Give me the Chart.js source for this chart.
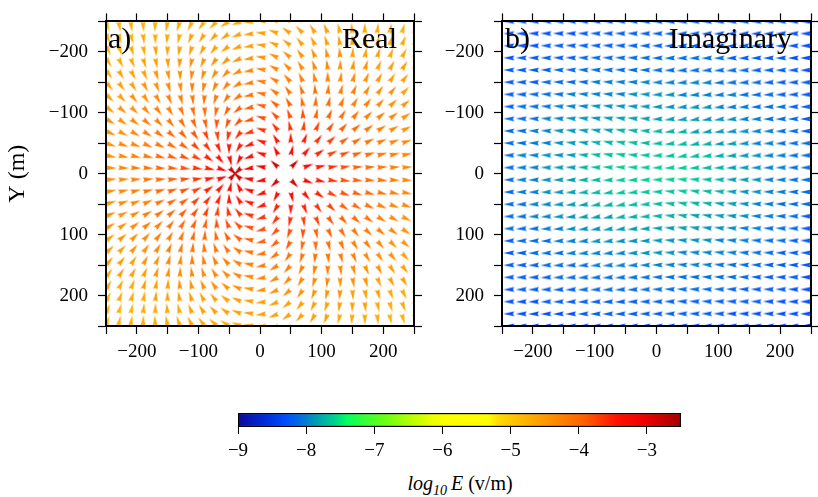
<!DOCTYPE html>
<html>
<head>
<meta charset="utf-8">
<script src="https://cdn.jsdelivr.net/npm/chart.js@4.4.1/dist/chart.umd.min.js"></script>
<style>
  html, body { margin: 0; padding: 0; background: #fff; }
  body { width: 818px; height: 497px; position: relative; overflow: hidden; font-family: "Liberation Serif", serif; }
  canvas { position: absolute; }
  #cbLabel { position: absolute; top: 472px; left: 330px; width: 260px; text-align: center; font-size: 20px; color: #000; }
  #cbLabel sub { font-size: 14px; }
</style>
</head>
<body>
<canvas id="real" width="440" height="380" style="left:0;top:0"></canvas>
<canvas id="imag" width="418" height="380" style="left:400px;top:0"></canvas>
<canvas id="cbar" width="520" height="70" style="left:200px;top:400px"></canvas>
<div id="cbLabel"><i>log<sub>10</sub>&#8201;E</i> (v/m)</div>
<script>
// grid nodes (m)
const gridX = [-250,-230,-210,-190,-170,-150,-130,-110,-90,-70,-50,-30,-10,10,30,50,70,90,110,130,150,170,190,210,230,250];
const gridY = [-250,-230,-210,-190,-170,-150,-130,-110,-90,-70,-50,-30,-10,10,30,50,70,90,110,130,150,170,190,210,230,250];
const axisLabels = [-200, -100, 0, 100, 200];
const cbTicks = [-9, -8, -7, -6, -5, -4, -3];
const cbMin = -9, cbMax = -2.5;

// arrow direction in degrees (0 = +x, 90 = +y i.e. downwards), rows follow gridY
const realAngle = [
  [72,77,82,87,93,100,108,116,126,136,148,160,173,-173,-160,-148,-136,-126,-116,-108,-100,-93,-87,-82,-77,-72],
  [68,73,77,83,89,96,103,112,122,133,145,159,173,-173,-159,-145,-133,-122,-112,-103,-96,-89,-83,-77,-73,-68],
  [64,68,73,78,84,91,99,108,118,129,142,157,172,-172,-157,-142,-129,-118,-108,-99,-91,-84,-78,-73,-68,-64],
  [59,63,68,73,79,86,94,103,113,125,139,155,171,-171,-155,-139,-125,-113,-103,-94,-86,-79,-73,-68,-63,-59],
  [54,58,62,67,73,80,88,97,108,121,135,152,170,-170,-152,-135,-121,-108,-97,-88,-80,-73,-67,-62,-58,-54],
  [49,52,57,62,67,74,82,91,102,115,131,149,169,-169,-149,-131,-115,-102,-91,-82,-74,-67,-62,-57,-52,-49],
  [43,46,50,55,60,67,75,84,95,109,125,145,168,-168,-145,-125,-109,-95,-84,-75,-67,-60,-55,-50,-46,-43],
  [37,40,44,48,53,59,67,76,87,101,119,141,166,-166,-141,-119,-101,-87,-76,-67,-59,-53,-48,-44,-40,-37],
  [31,34,37,40,45,51,58,66,78,93,111,135,164,-164,-135,-111,-93,-78,-66,-58,-51,-45,-40,-37,-34,-31],
  [24,27,29,32,36,41,47,55,67,82,102,129,162,-162,-129,-102,-82,-67,-55,-47,-41,-36,-32,-29,-27,-24],
  [18,19,21,24,26,30,35,43,53,68,91,122,159,-159,-122,-91,-68,-53,-43,-35,-30,-26,-24,-21,-19,-18],
  [11,12,13,14,16,19,22,27,35,50,77,118,160,-160,-118,-77,-50,-35,-27,-22,-19,-16,-14,-13,-12,-11],
  [4,4,4,5,5,6,8,9,13,20,46,137,170,-170,-137,-46,-20,-13,-9,-8,-6,-5,-5,-4,-4,-4],
  [-4,-4,-4,-5,-5,-6,-8,-9,-13,-20,-46,-137,-170,170,137,46,20,13,9,8,6,5,5,4,4,4],
  [-11,-12,-13,-14,-16,-19,-22,-27,-35,-50,-77,-118,-160,160,118,77,50,35,27,22,19,16,14,13,12,11],
  [-18,-19,-21,-24,-26,-30,-35,-43,-53,-68,-91,-122,-159,159,122,91,68,53,43,35,30,26,24,21,19,18],
  [-24,-27,-29,-32,-36,-41,-47,-55,-67,-82,-102,-129,-162,162,129,102,82,67,55,47,41,36,32,29,27,24],
  [-31,-34,-37,-40,-45,-51,-58,-66,-78,-93,-111,-135,-164,164,135,111,93,78,66,58,51,45,40,37,34,31],
  [-37,-40,-44,-48,-53,-59,-67,-76,-87,-101,-119,-141,-166,166,141,119,101,87,76,67,59,53,48,44,40,37],
  [-43,-46,-50,-55,-60,-67,-75,-84,-95,-109,-125,-145,-168,168,145,125,109,95,84,75,67,60,55,50,46,43],
  [-49,-52,-57,-62,-67,-74,-82,-91,-102,-115,-131,-149,-169,169,149,131,115,102,91,82,74,67,62,57,52,49],
  [-54,-58,-62,-67,-73,-80,-88,-97,-108,-121,-135,-152,-170,170,152,135,121,108,97,88,80,73,67,62,58,54],
  [-59,-63,-68,-73,-79,-86,-94,-103,-113,-125,-139,-155,-171,171,155,139,125,113,103,94,86,79,73,68,63,59],
  [-64,-68,-73,-78,-84,-91,-99,-108,-118,-129,-142,-157,-172,172,157,142,129,118,108,99,91,84,78,73,68,64],
  [-68,-73,-77,-83,-89,-96,-103,-112,-122,-133,-145,-159,-173,173,159,145,133,122,112,103,96,89,83,77,73,68],
  [-72,-77,-82,-87,-93,-100,-108,-116,-126,-136,-148,-160,-173,173,160,148,136,126,116,108,100,93,87,82,77,72]
];

// log10 |E| of the real part
const realLogE = [
  [-4.85,-4.75,-4.75,-4.75,-4.75,-4.65,-4.65,-4.65,-4.65,-4.65,-4.65,-4.65,-4.65,-4.65,-4.65,-4.65,-4.65,-4.65,-4.65,-4.65,-4.65,-4.75,-4.75,-4.75,-4.75,-4.85],
  [-4.75,-4.75,-4.75,-4.65,-4.65,-4.65,-4.65,-4.55,-4.55,-4.55,-4.55,-4.55,-4.55,-4.55,-4.55,-4.55,-4.55,-4.55,-4.55,-4.65,-4.65,-4.65,-4.65,-4.75,-4.75,-4.75],
  [-4.75,-4.65,-4.65,-4.65,-4.55,-4.55,-4.55,-4.55,-4.55,-4.55,-4.55,-4.55,-4.55,-4.55,-4.55,-4.55,-4.55,-4.55,-4.55,-4.55,-4.55,-4.55,-4.65,-4.65,-4.65,-4.75],
  [-4.65,-4.65,-4.65,-4.55,-4.55,-4.55,-4.4,-4.4,-4.4,-4.4,-4.4,-4.4,-4.4,-4.4,-4.4,-4.4,-4.4,-4.4,-4.4,-4.4,-4.55,-4.55,-4.55,-4.65,-4.65,-4.65],
  [-4.65,-4.55,-4.55,-4.55,-4.4,-4.4,-4.4,-4.3,-4.3,-4.3,-4.3,-4.3,-4.3,-4.3,-4.3,-4.3,-4.3,-4.3,-4.3,-4.4,-4.4,-4.4,-4.55,-4.55,-4.55,-4.65],
  [-4.55,-4.55,-4.55,-4.4,-4.4,-4.3,-4.3,-4.2,-4.2,-4.2,-4.2,-4.2,-4.2,-4.2,-4.2,-4.2,-4.2,-4.2,-4.2,-4.3,-4.3,-4.4,-4.4,-4.55,-4.55,-4.55],
  [-4.55,-4.55,-4.4,-4.4,-4.3,-4.2,-4.2,-4.1,-4.1,-4.1,-4.1,-4.1,-4.1,-4.1,-4.1,-4.1,-4.1,-4.1,-4.1,-4.2,-4.2,-4.3,-4.4,-4.4,-4.55,-4.55],
  [-4.55,-4.4,-4.4,-4.3,-4.2,-4.2,-4.1,-4.0,-4.0,-4.0,-3.9,-3.9,-3.9,-3.9,-3.9,-3.9,-4.0,-4.0,-4.0,-4.1,-4.2,-4.2,-4.3,-4.4,-4.4,-4.55],
  [-4.4,-4.4,-4.3,-4.2,-4.2,-4.1,-4.0,-3.9,-3.9,-3.8,-3.8,-3.8,-3.8,-3.8,-3.8,-3.8,-3.8,-3.9,-3.9,-4.0,-4.1,-4.2,-4.2,-4.3,-4.4,-4.4],
  [-4.4,-4.4,-4.3,-4.2,-4.1,-4.0,-3.9,-3.8,-3.7,-3.7,-3.6,-3.6,-3.6,-3.6,-3.6,-3.6,-3.7,-3.7,-3.8,-3.9,-4.0,-4.1,-4.2,-4.3,-4.4,-4.4],
  [-4.4,-4.3,-4.3,-4.2,-4.1,-4.0,-3.9,-3.7,-3.6,-3.5,-3.45,-3.45,-3.45,-3.45,-3.45,-3.45,-3.5,-3.6,-3.7,-3.9,-4.0,-4.1,-4.2,-4.3,-4.3,-4.4],
  [-4.4,-4.3,-4.2,-4.1,-4.0,-3.9,-3.8,-3.7,-3.5,-3.35,-3.2,-3.2,-3.3,-3.3,-3.2,-3.2,-3.35,-3.5,-3.7,-3.8,-3.9,-4.0,-4.1,-4.2,-4.3,-4.4],
  [-4.4,-4.3,-4.2,-4.1,-4.0,-3.9,-3.8,-3.6,-3.45,-3.2,-2.8,-2.8,-3.1,-3.1,-2.8,-2.8,-3.2,-3.45,-3.6,-3.8,-3.9,-4.0,-4.1,-4.2,-4.3,-4.4],
  [-4.4,-4.3,-4.2,-4.1,-4.0,-3.9,-3.8,-3.6,-3.45,-3.2,-2.8,-2.8,-3.1,-3.1,-2.8,-2.8,-3.2,-3.45,-3.6,-3.8,-3.9,-4.0,-4.1,-4.2,-4.3,-4.4],
  [-4.4,-4.3,-4.2,-4.1,-4.0,-3.9,-3.8,-3.7,-3.5,-3.35,-3.2,-3.2,-3.3,-3.3,-3.2,-3.2,-3.35,-3.5,-3.7,-3.8,-3.9,-4.0,-4.1,-4.2,-4.3,-4.4],
  [-4.4,-4.3,-4.3,-4.2,-4.1,-4.0,-3.9,-3.7,-3.6,-3.5,-3.45,-3.45,-3.45,-3.45,-3.45,-3.45,-3.5,-3.6,-3.7,-3.9,-4.0,-4.1,-4.2,-4.3,-4.3,-4.4],
  [-4.4,-4.4,-4.3,-4.2,-4.1,-4.0,-3.9,-3.8,-3.7,-3.7,-3.6,-3.6,-3.6,-3.6,-3.6,-3.6,-3.7,-3.7,-3.8,-3.9,-4.0,-4.1,-4.2,-4.3,-4.4,-4.4],
  [-4.4,-4.4,-4.3,-4.2,-4.2,-4.1,-4.0,-3.9,-3.9,-3.8,-3.8,-3.8,-3.8,-3.8,-3.8,-3.8,-3.8,-3.9,-3.9,-4.0,-4.1,-4.2,-4.2,-4.3,-4.4,-4.4],
  [-4.55,-4.4,-4.4,-4.3,-4.2,-4.2,-4.1,-4.0,-4.0,-4.0,-3.9,-3.9,-3.9,-3.9,-3.9,-3.9,-4.0,-4.0,-4.0,-4.1,-4.2,-4.2,-4.3,-4.4,-4.4,-4.55],
  [-4.55,-4.55,-4.4,-4.4,-4.3,-4.2,-4.2,-4.1,-4.1,-4.1,-4.1,-4.1,-4.1,-4.1,-4.1,-4.1,-4.1,-4.1,-4.1,-4.2,-4.2,-4.3,-4.4,-4.4,-4.55,-4.55],
  [-4.55,-4.55,-4.55,-4.4,-4.4,-4.3,-4.3,-4.2,-4.2,-4.2,-4.2,-4.2,-4.2,-4.2,-4.2,-4.2,-4.2,-4.2,-4.2,-4.3,-4.3,-4.4,-4.4,-4.55,-4.55,-4.55],
  [-4.65,-4.55,-4.55,-4.55,-4.4,-4.4,-4.4,-4.3,-4.3,-4.3,-4.3,-4.3,-4.3,-4.3,-4.3,-4.3,-4.3,-4.3,-4.3,-4.4,-4.4,-4.4,-4.55,-4.55,-4.55,-4.65],
  [-4.65,-4.65,-4.65,-4.55,-4.55,-4.55,-4.4,-4.4,-4.4,-4.4,-4.4,-4.4,-4.4,-4.4,-4.4,-4.4,-4.4,-4.4,-4.4,-4.4,-4.55,-4.55,-4.55,-4.65,-4.65,-4.65],
  [-4.75,-4.65,-4.65,-4.65,-4.55,-4.55,-4.55,-4.55,-4.55,-4.55,-4.55,-4.55,-4.55,-4.55,-4.55,-4.55,-4.55,-4.55,-4.55,-4.55,-4.55,-4.55,-4.65,-4.65,-4.65,-4.75],
  [-4.75,-4.75,-4.75,-4.65,-4.65,-4.65,-4.65,-4.55,-4.55,-4.55,-4.55,-4.55,-4.55,-4.55,-4.55,-4.55,-4.55,-4.55,-4.55,-4.65,-4.65,-4.65,-4.65,-4.75,-4.75,-4.75],
  [-4.85,-4.75,-4.75,-4.75,-4.75,-4.65,-4.65,-4.65,-4.65,-4.65,-4.65,-4.65,-4.65,-4.65,-4.65,-4.65,-4.65,-4.65,-4.65,-4.65,-4.65,-4.75,-4.75,-4.75,-4.75,-4.85]
];

// imaginary part: pointing to -x, slightly fanned around the two electrodes
const imagAngle = [
  [180,180,180,180,181,181,181,181,181,181,181,181,180,180,179,179,179,179,179,179,179,179,180,180,180,180],
  [180,180,180,181,181,181,181,181,181,181,181,181,180,180,179,179,179,179,179,179,179,179,179,180,180,180],
  [180,180,181,181,181,181,182,182,182,182,182,181,180,180,179,178,178,178,178,178,179,179,179,179,180,180],
  [180,181,181,181,181,182,182,182,182,182,182,182,181,179,178,178,178,178,178,178,178,179,179,179,179,180],
  [181,181,181,181,182,182,183,183,183,183,183,182,181,179,178,177,177,177,177,177,178,178,179,179,179,179],
  [181,181,181,182,182,183,183,184,184,184,184,183,181,179,177,176,176,176,176,177,177,178,178,179,179,179],
  [181,181,181,182,183,183,184,185,185,185,185,183,182,178,177,175,175,175,175,176,177,177,178,179,179,179],
  [181,181,182,182,183,184,185,186,187,187,186,184,182,178,176,174,173,173,174,175,176,177,178,178,179,179],
  [181,181,182,182,183,184,185,187,188,189,188,186,183,177,174,172,171,172,173,175,176,177,178,178,179,179],
  [181,181,182,182,183,184,186,188,190,191,190,187,183,177,173,170,169,170,172,174,176,177,178,178,179,179],
  [181,181,182,182,183,184,186,188,190,192,191,187,183,177,173,169,168,170,172,174,176,177,178,178,179,179],
  [180,181,181,182,182,183,184,186,188,190,190,186,182,178,174,170,170,172,174,176,177,178,178,179,179,180],
  [180,180,180,181,181,181,182,182,183,184,184,183,181,179,177,176,176,177,178,178,179,179,179,180,180,180],
  [180,180,180,179,179,179,178,178,177,176,176,177,179,181,183,184,184,183,182,182,181,181,181,180,180,180],
  [180,179,179,178,178,177,176,174,172,170,170,174,178,182,186,190,190,188,186,184,183,182,182,181,181,180],
  [179,179,178,178,177,176,174,172,170,168,169,173,177,183,187,191,192,190,188,186,184,183,182,182,181,181],
  [179,179,178,178,177,176,174,172,170,169,170,173,177,183,187,190,191,190,188,186,184,183,182,182,181,181],
  [179,179,178,178,177,176,175,173,172,171,172,174,177,183,186,188,189,188,187,185,184,183,182,182,181,181],
  [179,179,178,178,177,176,175,174,173,173,174,176,178,182,184,186,187,187,186,185,184,183,182,182,181,181],
  [179,179,179,178,177,177,176,175,175,175,175,177,178,182,183,185,185,185,185,184,183,183,182,181,181,181],
  [179,179,179,178,178,177,177,176,176,176,176,177,179,181,183,184,184,184,184,183,183,182,182,181,181,181],
  [179,179,179,179,178,178,177,177,177,177,177,178,179,181,182,183,183,183,183,183,182,182,181,181,181,181],
  [180,179,179,179,179,178,178,178,178,178,178,178,179,181,182,182,182,182,182,182,182,181,181,181,181,180],
  [180,180,179,179,179,179,178,178,178,178,178,179,180,180,181,182,182,182,182,182,181,181,181,181,180,180],
  [180,180,180,179,179,179,179,179,179,179,179,179,180,180,181,181,181,181,181,181,181,181,181,180,180,180],
  [180,180,180,180,179,179,179,179,179,179,179,179,180,180,181,181,181,181,181,181,181,181,180,180,180,180]
];

const imagLogE = [
  [-8.4,-8.4,-8.3,-8.3,-8.3,-8.3,-8.3,-8.3,-8.3,-8.3,-8.3,-8.3,-8.3,-8.3,-8.3,-8.3,-8.3,-8.3,-8.3,-8.3,-8.3,-8.3,-8.3,-8.3,-8.4,-8.4],
  [-8.3,-8.3,-8.3,-8.3,-8.3,-8.3,-8.3,-8.2,-8.2,-8.2,-8.2,-8.2,-8.2,-8.2,-8.2,-8.2,-8.2,-8.2,-8.2,-8.3,-8.3,-8.3,-8.3,-8.3,-8.3,-8.3],
  [-8.3,-8.3,-8.3,-8.3,-8.2,-8.2,-8.2,-8.2,-8.2,-8.2,-8.2,-8.2,-8.2,-8.2,-8.2,-8.2,-8.2,-8.2,-8.2,-8.2,-8.2,-8.2,-8.3,-8.3,-8.3,-8.3],
  [-8.3,-8.3,-8.2,-8.2,-8.2,-8.2,-8.2,-8.1,-8.1,-8.1,-8.1,-8.1,-8.1,-8.1,-8.1,-8.1,-8.1,-8.1,-8.1,-8.2,-8.2,-8.2,-8.2,-8.2,-8.3,-8.3],
  [-8.3,-8.2,-8.2,-8.2,-8.2,-8.1,-8.1,-8.1,-8.1,-8.1,-8.1,-8.1,-8.1,-8.1,-8.1,-8.1,-8.1,-8.1,-8.1,-8.1,-8.1,-8.2,-8.2,-8.2,-8.2,-8.3],
  [-8.2,-8.2,-8.2,-8.2,-8.1,-8.1,-8.1,-8.1,-8.0,-8.0,-8.0,-8.0,-8.0,-8.0,-8.0,-8.0,-8.0,-8.0,-8.1,-8.1,-8.1,-8.1,-8.2,-8.2,-8.2,-8.2],
  [-8.2,-8.2,-8.2,-8.1,-8.1,-8.1,-8.0,-8.0,-8.0,-8.0,-8.0,-7.9,-7.9,-7.9,-7.9,-8.0,-8.0,-8.0,-8.0,-8.0,-8.1,-8.1,-8.1,-8.2,-8.2,-8.2],
  [-8.2,-8.2,-8.1,-8.1,-8.1,-8.0,-8.0,-8.0,-7.9,-7.9,-7.9,-7.9,-7.9,-7.9,-7.9,-7.9,-7.9,-7.9,-8.0,-8.0,-8.0,-8.1,-8.1,-8.1,-8.2,-8.2],
  [-8.2,-8.1,-8.1,-8.1,-8.0,-8.0,-7.9,-7.9,-7.9,-7.85,-7.85,-7.85,-7.85,-7.85,-7.85,-7.85,-7.85,-7.9,-7.9,-7.9,-8.0,-8.0,-8.1,-8.1,-8.1,-8.2],
  [-8.2,-8.1,-8.1,-8.0,-8.0,-7.9,-7.9,-7.85,-7.85,-7.85,-7.75,-7.75,-7.75,-7.75,-7.75,-7.75,-7.85,-7.85,-7.85,-7.9,-7.9,-8.0,-8.0,-8.1,-8.1,-8.2],
  [-8.1,-8.1,-8.1,-8.0,-8.0,-7.9,-7.85,-7.85,-7.75,-7.75,-7.7,-7.7,-7.7,-7.7,-7.7,-7.7,-7.75,-7.75,-7.85,-7.85,-7.9,-8.0,-8.0,-8.1,-8.1,-8.1],
  [-8.1,-8.1,-8.0,-8.0,-7.9,-7.9,-7.85,-7.75,-7.7,-7.7,-7.65,-7.65,-7.65,-7.65,-7.65,-7.65,-7.7,-7.7,-7.75,-7.85,-7.9,-7.9,-8.0,-8.0,-8.1,-8.1],
  [-8.1,-8.1,-8.0,-8.0,-7.9,-7.85,-7.85,-7.75,-7.7,-7.65,-7.6,-7.6,-7.6,-7.6,-7.6,-7.6,-7.65,-7.7,-7.75,-7.85,-7.85,-7.9,-8.0,-8.0,-8.1,-8.1],
  [-8.1,-8.1,-8.0,-8.0,-7.9,-7.85,-7.85,-7.75,-7.7,-7.65,-7.6,-7.6,-7.6,-7.6,-7.6,-7.6,-7.65,-7.7,-7.75,-7.85,-7.85,-7.9,-8.0,-8.0,-8.1,-8.1],
  [-8.1,-8.1,-8.0,-8.0,-7.9,-7.9,-7.85,-7.75,-7.7,-7.7,-7.65,-7.65,-7.65,-7.65,-7.65,-7.65,-7.7,-7.7,-7.75,-7.85,-7.9,-7.9,-8.0,-8.0,-8.1,-8.1],
  [-8.1,-8.1,-8.1,-8.0,-8.0,-7.9,-7.85,-7.85,-7.75,-7.75,-7.7,-7.7,-7.7,-7.7,-7.7,-7.7,-7.75,-7.75,-7.85,-7.85,-7.9,-8.0,-8.0,-8.1,-8.1,-8.1],
  [-8.2,-8.1,-8.1,-8.0,-8.0,-7.9,-7.9,-7.85,-7.85,-7.85,-7.75,-7.75,-7.75,-7.75,-7.75,-7.75,-7.85,-7.85,-7.85,-7.9,-7.9,-8.0,-8.0,-8.1,-8.1,-8.2],
  [-8.2,-8.1,-8.1,-8.1,-8.0,-8.0,-7.9,-7.9,-7.9,-7.85,-7.85,-7.85,-7.85,-7.85,-7.85,-7.85,-7.85,-7.9,-7.9,-7.9,-8.0,-8.0,-8.1,-8.1,-8.1,-8.2],
  [-8.2,-8.2,-8.1,-8.1,-8.1,-8.0,-8.0,-8.0,-7.9,-7.9,-7.9,-7.9,-7.9,-7.9,-7.9,-7.9,-7.9,-7.9,-8.0,-8.0,-8.0,-8.1,-8.1,-8.1,-8.2,-8.2],
  [-8.2,-8.2,-8.2,-8.1,-8.1,-8.1,-8.0,-8.0,-8.0,-8.0,-8.0,-7.9,-7.9,-7.9,-7.9,-8.0,-8.0,-8.0,-8.0,-8.0,-8.1,-8.1,-8.1,-8.2,-8.2,-8.2],
  [-8.2,-8.2,-8.2,-8.2,-8.1,-8.1,-8.1,-8.1,-8.0,-8.0,-8.0,-8.0,-8.0,-8.0,-8.0,-8.0,-8.0,-8.0,-8.1,-8.1,-8.1,-8.1,-8.2,-8.2,-8.2,-8.2],
  [-8.3,-8.2,-8.2,-8.2,-8.2,-8.1,-8.1,-8.1,-8.1,-8.1,-8.1,-8.1,-8.1,-8.1,-8.1,-8.1,-8.1,-8.1,-8.1,-8.1,-8.1,-8.2,-8.2,-8.2,-8.2,-8.3],
  [-8.3,-8.3,-8.2,-8.2,-8.2,-8.2,-8.2,-8.1,-8.1,-8.1,-8.1,-8.1,-8.1,-8.1,-8.1,-8.1,-8.1,-8.1,-8.1,-8.2,-8.2,-8.2,-8.2,-8.2,-8.3,-8.3],
  [-8.3,-8.3,-8.3,-8.3,-8.2,-8.2,-8.2,-8.2,-8.2,-8.2,-8.2,-8.2,-8.2,-8.2,-8.2,-8.2,-8.2,-8.2,-8.2,-8.2,-8.2,-8.2,-8.3,-8.3,-8.3,-8.3],
  [-8.3,-8.3,-8.3,-8.3,-8.3,-8.3,-8.3,-8.2,-8.2,-8.2,-8.2,-8.2,-8.2,-8.2,-8.2,-8.2,-8.2,-8.2,-8.2,-8.3,-8.3,-8.3,-8.3,-8.3,-8.3,-8.3],
  [-8.4,-8.4,-8.3,-8.3,-8.3,-8.3,-8.3,-8.3,-8.3,-8.3,-8.3,-8.3,-8.3,-8.3,-8.3,-8.3,-8.3,-8.3,-8.3,-8.3,-8.3,-8.3,-8.3,-8.3,-8.4,-8.4]
];

// colour palette of the scale bar
const paletteAt = [-9, -8.57, -8.28, -8.08, -7.84, -7.59, -7.4, -7.1, -6.81, -6.42, -6.13, -5.83, -5.34, -5.15, -4.75, -4.41, -3.92, -3.43, -3.04, -2.7, -2.5];
const paletteHex = ['#0a0a9a','#0030e0','#0050ff','#0070e0','#00a0b0','#00d090','#00ff60','#40ff30','#70ff10','#c0ff00','#f0ff00','#ffff00','#ffff00','#ffd800','#ffb000','#ff9000','#ff6000','#ff1000','#f00000','#c00000','#a00000'];

Chart.defaults.font.family = '"Liberation Serif", "Times New Roman", serif';
Chart.defaults.color = '#000';

function hexRgb(h) {
  return [parseInt(h.slice(1, 3), 16), parseInt(h.slice(3, 5), 16), parseInt(h.slice(5, 7), 16)];
}

function colorFor(v) {
  if (v <= paletteAt[0]) return paletteHex[0];
  for (let i = 1; i < paletteAt.length; i++) {
    if (v <= paletteAt[i]) {
      const t = (v - paletteAt[i - 1]) / (paletteAt[i] - paletteAt[i - 1]);
      const a = hexRgb(paletteHex[i - 1]), b = hexRgb(paletteHex[i]);
      return 'rgb(' + a.map((c, k) => Math.round(c + (b[k] - c) * t)).join(',') + ')';
    }
  }
  return paletteHex[paletteHex.length - 1];
}

// one arrow glyph per colour, tail in the middle of the image, tip pointing up
const arrowCache = {};
function arrowImage(color) {
  if (arrowCache[color]) return arrowCache[color];
  const L = 11, c = 12;
  const cv = document.createElement('canvas');
  cv.width = cv.height = 2 * c;
  const g = cv.getContext('2d');
  g.fillStyle = color;
  g.beginPath();
  g.moveTo(c, c - L);
  g.lineTo(c + 2.5, c);
  g.lineTo(c, c - 1.5);
  g.lineTo(c - 2.5, c);
  g.closePath();
  g.fill();
  arrowCache[color] = cv;
  return cv;
}

function fieldPoints(angles, logs) {
  const pts = [];
  gridY.forEach((y, i) => {
    gridX.forEach((x, j) => {
      pts.push({ x: x, y: y, a: angles[i][j], v: logs[i][j] });
    });
  });
  return pts;
}

function tickText(v) {
  if (!axisLabels.includes(v)) return '';
  return v < 0 ? '\u2212' + (-v) : String(v);
}

function frameAxes(leftWidth, rightWidth, yTitle) {
  const grid = () => ({ drawOnChartArea: false, tickLength: 8, tickColor: '#000', tickWidth: 1.2, z: 1 });
  const border = () => ({ display: true, color: '#000', width: 2, z: 1 });
  return {
    x: {
      type: 'linear', position: 'bottom', min: -250, max: 250,
      ticks: { stepSize: 50, autoSkip: false, maxRotation: 0, callback: tickText, font: { size: 19 }, padding: 7 },
      grid: grid(), border: border(),
      afterFit: s => { s.height = 54; }
    },
    x2: {
      type: 'linear', position: 'top', min: -250, max: 250,
      ticks: { stepSize: 50, display: false },
      grid: grid(), border: border(),
      afterFit: s => { s.height = 14; }
    },
    y: {
      type: 'linear', position: 'left', min: -250, max: 250, reverse: true,
      ticks: { stepSize: 50, autoSkip: false, callback: tickText, font: { size: 19 }, padding: 10 },
      title: { display: !!yTitle, text: yTitle || '', font: { size: 24 }, padding: { top: 3, bottom: 0 } },
      grid: grid(), border: border(),
      afterFit: s => { s.width = leftWidth; }
    },
    y2: {
      type: 'linear', position: 'right', min: -250, max: 250, reverse: true,
      ticks: { stepSize: 50, display: false },
      grid: grid(), border: border(),
      afterFit: s => { s.width = rightWidth; }
    }
  };
}

const panelText = {
  id: 'panelText',
  afterDraw(chart, args, opts) {
    const { ctx, chartArea } = chart;
    ctx.save();
    ctx.font = '30px "Liberation Serif", serif';
    ctx.fillStyle = '#000';
    ctx.textBaseline = 'alphabetic';
    ctx.textAlign = 'left';
    ctx.fillText(opts.tag, chartArea.left + opts.tagDx, 48);
    ctx.textAlign = 'right';
    ctx.fillText(opts.name, chartArea.right - opts.nameDx, 48);
    ctx.restore();
  }
};

function quiver(id, angles, logs, axes, text) {
  return new Chart(document.getElementById(id), {
    type: 'scatter',
    data: {
      datasets: [{
        data: fieldPoints(angles, logs),
        pointStyle: c => c.raw ? arrowImage(colorFor(c.raw.v)) : 'circle',
        rotation: c => c.raw ? c.raw.a + 90 : 0,
        pointRadius: 6,
        clip: 0
      }]
    },
    options: {
      responsive: false,
      animation: false,
      events: [],
      layout: { padding: 0 },
      plugins: { legend: { display: false }, tooltip: { enabled: false }, panelText: text },
      scales: axes
    },
    plugins: [panelText]
  });
}

quiver('real', realAngle, realLogE, frameAxes(106, 26, 'Y (m)'), { tag: 'a)', tagDx: 2, name: 'Real', nameDx: 17 });
quiver('imag', imagAngle, imagLogE, frameAxes(102, 6, null), { tag: 'b)', tagDx: 3, name: 'Imaginary', nameDx: 19 });

// colour scale
new Chart(document.getElementById('cbar'), {
  type: 'bar',
  data: {
    labels: ['E'],
    datasets: [{
      data: [[cbMin, cbMax]],
      backgroundColor: c => {
        const chart = c.chart;
        if (!chart.chartArea) return '#888';
        const xs = chart.scales.x;
        const grad = chart.ctx.createLinearGradient(xs.getPixelForValue(cbMin), 0, xs.getPixelForValue(cbMax), 0);
        paletteAt.forEach((v, i) => grad.addColorStop((v - cbMin) / (cbMax - cbMin), paletteHex[i]));
        return grad;
      },
      borderColor: '#000',
      borderWidth: 1.5,
      borderSkipped: false,
      barPercentage: 1,
      categoryPercentage: 1
    }]
  },
  options: {
    indexAxis: 'y',
    responsive: false,
    animation: false,
    events: [],
    layout: { padding: { left: 38, right: 39, top: 13, bottom: 0 } },
    plugins: { legend: { display: false }, tooltip: { enabled: false } },
    scales: {
      x: {
        type: 'linear', min: cbMin, max: cbMax, position: 'bottom',
        ticks: { stepSize: 1, includeBounds: false, autoSkip: false, maxRotation: 0, font: { size: 19 }, padding: 6,
          callback: v => cbTicks.includes(v) ? '\u2212' + Math.abs(v) : '' },
        grid: { drawOnChartArea: false, tickLength: 7, tickColor: '#000', tickWidth: 1 },
        border: { display: false },
        afterFit: s => { s.height = 43; }
      },
      y: { display: false }
    }
  }
});
</script>
</body>
</html>
